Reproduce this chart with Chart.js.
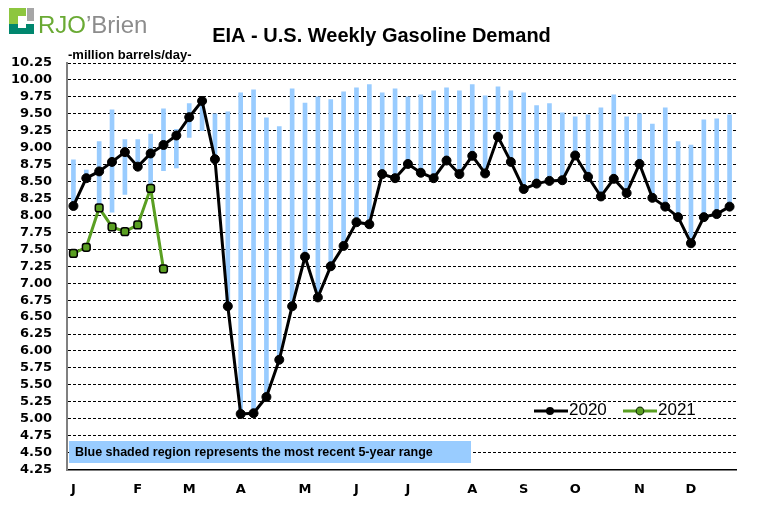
<!DOCTYPE html>
<html>
<head>
<meta charset="utf-8">
<script src="https://cdn.jsdelivr.net/npm/chart.js@4"></script>
<style>
  html,body{margin:0;padding:0;background:#fff;}
  #wrap{width:763px;height:516px;position:relative;}
</style>
</head>
<body>
<div id="wrap"><canvas id="c" width="763" height="516"></canvas></div>
<script>
// ---- data ----
const weeks = [1,2,3,4,5,6,7,8,9,10,11,12,13,14,15,16,17,18,19,20,21,22,23,24,25,26,
               27,28,29,30,31,32,33,34,35,36,37,38,39,40,41,42,43,44,45,46,47,48,49,50,51,52];
const monthTickIndex  = [0,5,9,13,18,22,26,31,35,39,44,48];
const monthTickLabels = ['J','F','M','A','M','J','J','A','S','O','N','D'];

const demand2020 = [8.14,8.55,8.65,8.79,8.935,8.72,8.915,9.04,9.18,9.45,9.69,8.83,
                    6.66,5.07,5.08,5.32,5.87,6.66,7.39,6.79,7.25,7.55,7.90,7.87,
                    8.61,8.55,8.76,8.63,8.55,8.81,8.61,8.88,8.62,9.16,8.79,8.39,
                    8.47,8.51,8.52,8.885,8.57,8.28,8.54,8.33,8.76,8.26,8.13,7.975,
                    7.59,7.975,8.02,8.13];
const demand2021 = [7.44,7.53,8.11,7.83,7.76,7.86,8.40,7.21];

const rangeMin = [8.18,8.55,8.12,8.05,8.31,8.74,8.43,8.66,8.70,9.15,9.25,8.83,
                  6.66,5.07,5.08,5.32,5.87,6.66,7.39,6.79,7.25,7.55,7.90,7.87,
                  8.61,8.55,8.76,8.63,8.55,8.81,8.61,8.88,8.62,9.16,8.79,8.39,
                  8.47,8.51,8.52,8.885,8.57,8.28,8.54,8.33,8.76,8.26,8.13,7.975,
                  7.59,7.975,8.02,8.13];
const rangeMax = [8.82,8.67,9.09,9.56,9.12,9.12,9.20,9.575,9.27,9.65,9.70,9.50,
                  9.53,9.81,9.855,9.44,9.31,9.87,9.66,9.75,9.71,9.825,9.885,9.93,
                  9.81,9.87,9.75,9.78,9.84,9.885,9.84,9.93,9.765,9.90,9.84,9.81,
                  9.62,9.65,9.515,9.455,9.485,9.59,9.78,9.455,9.50,9.35,9.59,9.09,
                  9.04,9.41,9.425,9.485];

const yTickMin = 4.25, yTickMax = 10.25, yTickStep = 0.25;

const titleText = 'EIA - U.S. Weekly Gasoline Demand';
const unitText = '-million barrels/day-';
const noteText = 'Blue shaded region represents the most recent 5-year range';
const seriesNames = ['2020','2021'];

const GREEN = '#5a9f22';
const BLUE = '#99ccff';

const rangeData = rangeMin.map((v,i)=>[v, rangeMax[i]]);

const decor = {
  id:'decor',
  afterDatasetsDraw(chart){
    const ctx = chart.ctx;
    ctx.save();
    // logo icon
    ctx.fillStyle = '#8dc63f'; ctx.fillRect(9,8,17,16);
    ctx.fillStyle = '#ffffff'; ctx.fillRect(18,16,8,8);
    ctx.fillStyle = '#a6a6a6'; ctx.fillRect(27,8,7,13);
    ctx.fillStyle = '#00866e'; ctx.fillRect(9,24,25,10);
    ctx.fillStyle = '#ffffff'; ctx.fillRect(18,24,8,4);
    // logo text
    ctx.textBaseline = 'alphabetic';
    ctx.textAlign = 'left';
    ctx.font = '24px "Liberation Sans"';
    ctx.fillStyle = '#6aaa34';
    ctx.fillText('RJO', 38, 33);
    let w = ctx.measureText('RJO').width;
    ctx.fillStyle = '#8c8c8c';
    ctx.fillText('\u2019Brien', 38 + w, 33);

    // title
    ctx.fillStyle = '#000';
    ctx.font = 'bold 20px "Liberation Sans"';
    ctx.textAlign = 'center';
    ctx.fillText(titleText, 381.5, 41.5);

    // unit
    ctx.font = 'bold 13px "Liberation Sans"';
    ctx.textAlign = 'left';
    ctx.fillText(unitText, 68, 59);

    // note box
    ctx.fillStyle = BLUE;
    ctx.fillRect(69, 441, 402, 22);
    ctx.fillStyle = '#000';
    ctx.font = 'bold 12.5px "Liberation Sans"';
    ctx.textBaseline = 'middle';
    ctx.fillText(noteText, 75, 452.5);

    // legend
    const ly = 411;
    ctx.lineWidth = 3;
    ctx.strokeStyle = '#000';
    ctx.beginPath(); ctx.moveTo(534, ly); ctx.lineTo(568, ly); ctx.stroke();
    ctx.fillStyle = '#000';
    ctx.beginPath(); ctx.arc(550, ly, 4, 0, Math.PI*2); ctx.fill();
    ctx.font = '17px "Liberation Sans"';
    ctx.fillText(seriesNames[0], 569, 410.5);

    ctx.strokeStyle = GREEN;
    ctx.beginPath(); ctx.moveTo(623, ly); ctx.lineTo(657, ly); ctx.stroke();
    ctx.fillStyle = GREEN; ctx.strokeStyle = '#1a3a0a'; ctx.lineWidth = 1.2;
    ctx.beginPath(); ctx.arc(640, ly, 3.8, 0, Math.PI*2); ctx.fill(); ctx.stroke();
    ctx.fillStyle = '#000';
    ctx.fillText(seriesNames[1], 658, 410.5);
    ctx.restore();
  }
};

new Chart(document.getElementById('c'), {
  data: {
    labels: weeks,
    datasets: [
      {
        type:'line', label: seriesNames[1], data: demand2021, order:0,
        borderColor: GREEN, borderWidth: 3,
        pointStyle:'rectRounded', pointRadius:4.5, pointBackgroundColor: GREEN,
        pointBorderColor:'#000', pointBorderWidth:1.5, tension:0
      },
      {
        type:'line', label: seriesNames[0], data: demand2020, order:1,
        borderColor:'#000', borderWidth:3,
        pointRadius:4.5, pointBackgroundColor:'#000', pointBorderColor:'#000',
        pointBorderWidth:1, tension:0
      },
      {
        type:'bar', label:'5-year range', data: rangeData, order:2,
        backgroundColor: BLUE, borderWidth:0, barThickness:4
      }
    ]
  },
  options: {
    responsive:false,
    animation:false,
    devicePixelRatio:1,
    layout:{ padding:{ left:0, right:27, top:63, bottom:0 } },
    plugins:{ legend:{display:false}, tooltip:{enabled:false}, title:{display:false} },
    scales:{
      x:{
        type:'category', offset:true,
        grid:{ display:false, drawTicks:false },
        border:{ display:true, color:'#000', width:1.5 },
        ticks:{
          autoSkip:false, maxRotation:0, minRotation:0, padding:12, color:'#000',
          font:{ family:'"DejaVu Sans"', weight:'bold', size:13 },
          callback:(v, i) => { const k = monthTickIndex.indexOf(i); return k >= 0 ? monthTickLabels[k] : ''; }
        },
        afterFit:(s) => { s.height = 46.5; }
      },
      y:{
        min:yTickMin, max:yTickMax,
        grid:{ color:'#000', lineWidth:1, drawTicks:false },
        border:{ display:true, color:'#808080', width:2, dash:[3,2] },
        ticks:{
          stepSize:yTickStep, autoSkip:false, padding:15, color:'#000',
          font:{ family:'"DejaVu Sans"', weight:'bold', size:13 },
          callback:(v) => Number(v).toFixed(2)
        },
        afterFit:(s) => { s.width = 67; }
      }
    }
  },
  plugins:[decor]
});
</script>
</body>
</html>
